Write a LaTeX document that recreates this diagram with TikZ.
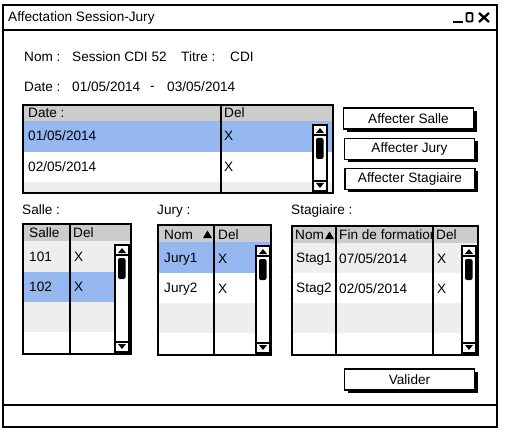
\documentclass[tikz,border=0pt]{standalone}
\usepackage{fontspec}
\setmainfont{Liberation Sans}
\usetikzlibrary{shadows}
\definecolor{hdr}{HTML}{CCCCCC}
\definecolor{sel}{HTML}{94B8EF}
\definecolor{alt}{HTML}{EEEEEE}
\newcommand\myscroll[3]{%
  \draw[fill=white,line width=1.1pt] (#1,#2) rectangle ({#1+14},#3);
  \draw[line width=1.1pt] (#1,#2) rectangle ({#1+14},{#2+10});
  \fill ({#1+3},{#2+8}) -- ({#1+11},{#2+8}) -- ({#1+7},{#2+3}) -- cycle;
  \fill[rounded corners=2pt] ({#1+3},{#2+13}) rectangle ({#1+10.5},{#2+34});
  \draw[line width=1.1pt] (#1,{#3-10}) rectangle ({#1+14},#3);
  \fill ({#1+3},{#3-8}) -- ({#1+11},{#3-8}) -- ({#1+7},{#3-3}) -- cycle;
}
\begin{document}
\begin{tikzpicture}[x=1pt,y=-1pt,
  txt/.style={anchor=west, inner sep=0pt, font=\fontsize{13.6}{15}\selectfont},
  frame/.style={draw=black, line width=1.8pt},
  btn/.style={draw, line width=1.3pt, fill=white, minimum width=130pt, minimum height=21pt,
     inner sep=0pt, font=\fontsize{13.6}{15}\selectfont,
     drop shadow={shadow xshift=3pt, shadow yshift=-3pt, opacity=1, fill=black}},
  sorttri/.style={fill=black}]
\useasboundingbox (0,0) rectangle (509,433);
% window
\fill[white] (3,5) rectangle (497,427);
\draw[frame] (3,5) rectangle (497,427);
\draw[line width=1.8pt] (3,30) -- (497,30);
\draw[line width=1.8pt] (3,405) -- (497,405);
\node[txt] (title) at (8,17.5) {Affectation Session-Jury};
\draw[line width=2.6pt] (453,22) -- (463,22);
\draw[line width=1.8pt, rounded corners=1pt] (466.5,13) rectangle (472.5,21.5);
\draw[line width=2.3pt] (479,13) -- (489,22) (489,13) -- (479,22);
% header fields
\node[txt] (nomlbl) at (24,57) {Nom :};
\node[txt] (nomval) at (72,57) {Session CDI 52};
\node[txt] (titlbl) at (181,57) {Titre :};
\node[txt] (titval) at (230,57) {CDI};
\node[txt] (datelbl) at (24,87) {Date :};
\node[txt] (d1) at (72,87) {01/05/2014};
\node[txt] (dash) at (150,88) {-};
\node[txt] (d2) at (167,87) {03/05/2014};
% date table
\fill[hdr] (23,105) rectangle (333,121);
\fill[sel] (23,121) rectangle (333,152);
\fill[alt] (23,182) rectangle (333,193);
\draw[line width=1.8pt] (221,105) -- (221,193);
\myscroll{313}{125}{191}
\draw[frame] (23,105) rectangle (333,193);
\node[txt] (dh1) at (28,113) {Date :};
\node[txt] (dh2) at (224,113) {Del};
\node[txt] (dr1) at (28,136) {01/05/2014};
\node[txt] (dx1) at (224,136) {X};
\node[txt] (dr2) at (28,167) {02/05/2014};
\node[txt] (dx2) at (224,167) {X};
% buttons
\node[btn] (bsalle) at (408.5,118.5) {Affecter Salle};
\node[btn] (bjury) at (409.5,149) {Affecter Jury};
\node[btn] (bstag) at (410,179) {Affecter Stagiaire};
\node[btn] (bval) at (409.5,379.5) {Valider};
% labels
\node[txt] (lsalle) at (22,210) {Salle :};
\node[txt] (ljury) at (157,211) {Jury :};
\node[txt] (lstag) at (291,211) {Stagiaire :};
% salle table
\fill[hdr] (23,224) rectangle (131,241);
\fill[alt] (23,241) rectangle (131,272);
\fill[sel] (23,272) rectangle (131,302);
\fill[alt] (23,302) rectangle (131,332);
\draw[line width=1.8pt] (70,224) -- (70,354);
\myscroll{115}{245}{352}
\draw[frame] (23,224) rectangle (131,354);
\node[txt] (sh1) at (29,233) {Salle};
\node[txt] (sh2) at (73,233) {Del};
\node[txt] (sr1) at (29,257) {101};
\node[txt] (sx1) at (74,257) {X};
\node[txt] (sr2) at (29,287) {102};
\node[txt] (sx2) at (74,287) {X};
% jury table
\fill[hdr] (158,225) rectangle (271,242);
\fill[sel] (158,242) rectangle (271,273);
\fill[alt] (158,303) rectangle (271,333);
\draw[line width=1.8pt] (214,225) -- (214,355);
\myscroll{256}{246}{353}
\draw[frame] (158,225) rectangle (271,355);
\node[txt] (jh1) at (164,234.5) {Nom};
\fill[sorttri] (203,238) -- (212,238) -- (207.5,230.5) -- cycle;
\node[txt] (jh2) at (218,234.5) {Del};
\node[txt] (jr1) at (164,259) {Jury1};
\node[txt] (jx1) at (218,259) {X};
\node[txt] (jr2) at (164,289) {Jury2};
\node[txt] (jx2) at (218,289) {X};
% stagiaire table
\fill[hdr] (292,226) rectangle (478,243);
\fill[alt] (292,243) rectangle (478,273);
\fill[alt] (292,303) rectangle (478,333);
\draw[line width=1.8pt] (336,226) -- (336,355);
\draw[line width=1.8pt] (433,226) -- (433,355);
\myscroll{462}{246}{353}
\draw[frame] (292,226) rectangle (478,355);
\node[txt] (sth1) at (295,235) {Nom};
\fill[sorttri] (325,239) -- (334,239) -- (329.5,231.5) -- cycle;
\begin{scope}
\clip (337,227) rectangle (432,243);
\node[txt] (sth2) at (339,235) {Fin de formation};
\end{scope}
\node[txt] (sth3) at (436,235) {Del};
\node[txt] (str1) at (296,259) {Stag1};
\node[txt] (std1) at (339,259) {07/05/2014};
\node[txt] (stx1) at (437,259) {X};
\node[txt] (str2) at (296,289) {Stag2};
\node[txt] (std2) at (339,289) {02/05/2014};
\node[txt] (stx2) at (437,289) {X};
\end{tikzpicture}
\end{document}
